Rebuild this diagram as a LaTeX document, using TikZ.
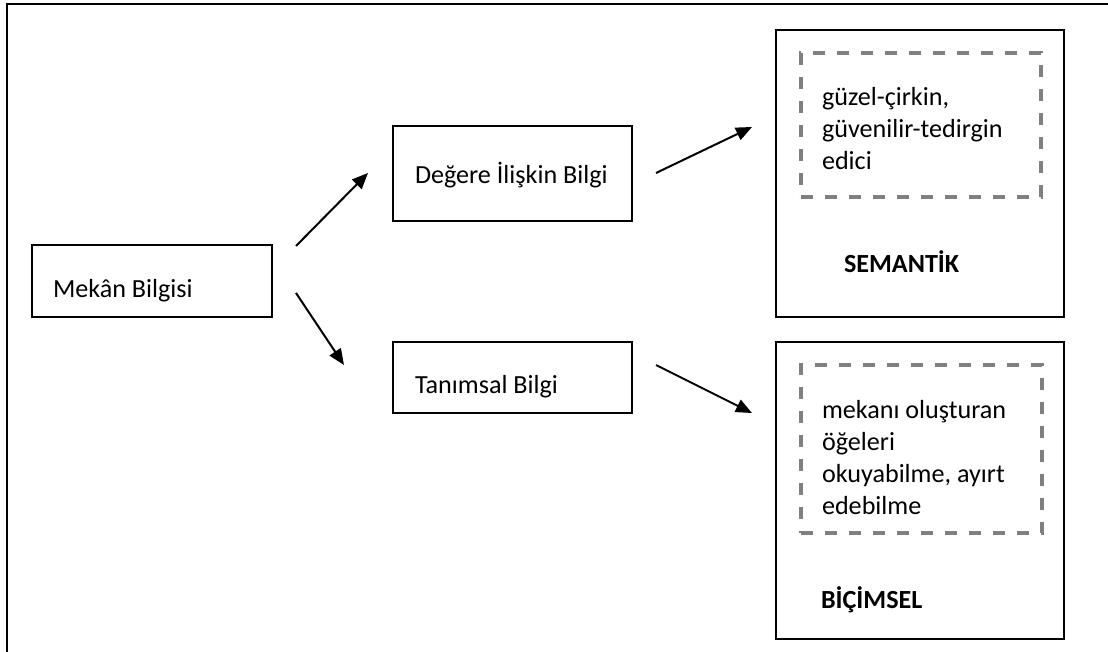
\documentclass[tikz,border=0pt]{standalone}
\usepackage{fontspec}
\setmainfont{Carlito}
\usetikzlibrary{arrows.meta,fit}
\definecolor{dashgray}{HTML}{808080}
\begin{document}
\begin{tikzpicture}[x=0.75pt,y=-0.75pt,
  every node/.style={inner sep=0pt, outer sep=0pt},
  box/.style={draw=black, line width=1.3pt, inner sep=0pt},
  dashbox/.style={draw=dashgray, line width=2.3pt, dash pattern=on 9pt off 9pt, inner sep=0pt},
  label/.style={anchor=base west, font=\fontsize{19.6}{24}\selectfont},
  blabel/.style={anchor=base west, font=\fontsize{19.6}{24}\selectfont\bfseries},
  multi/.style={anchor=base west, align=left, font=\fontsize{19.6}{24}\selectfont},
  link/.style={line width=1.5pt, -{Triangle[length=12pt,width=10pt]}}]
  % page area and open frame (top and left sides)
  \useasboundingbox (0,0) rectangle (1108,652);
  \draw[line width=1.8pt] (1108,4) -- (7,4) -- (7,652);

  % boxes
  \node[box, fit={(32,245) (272,317)}] (mekan) {};
  \node[box, fit={(393,126) (632,221)}] (deger) {};
  \node[box, fit={(393,342) (632,413)}] (tanim) {};
  \node[box, fit={(776,30) (1064,317)}] (semantik) {};
  \node[box, fit={(776,342) (1064,639)}] (bicimsel) {};
  \node[dashbox, fit={(801,53) (1041,197)}] (semin) {};
  \node[dashbox, fit={(801,365) (1042,533)}] (bicin) {};

  % texts (multi-line nodes are anchored at their last baseline)
  \node[label] (tmekan) at (53,298) {Mekân Bilgisi};
  \node[label] (tdeger) at (415,184) {Değere İlişkin Bilgi};
  \node[label] (ttanim) at (415,394) {Tanımsal Bilgi};
  \node[multi] (tsem) at (822,170) {güzel-çirkin,\\güvenilir-tedirgin\\edici};
  \node[multi] (tbic) at (822,514) {mekanı oluşturan\\öğeleri\\okuyabilme, ayırt\\edebilme};
  \node[blabel] (lsem) at (844,273) {SEMANTİK};
  \node[blabel] (lbic) at (821,609) {BİÇİMSEL};

  % connector end points
  \coordinate (a1s) at (296,246); \coordinate (a1e) at (368,173);
  \coordinate (a2s) at (296,293); \coordinate (a2e) at (344,365);
  \coordinate (a3s) at (656,173); \coordinate (a3e) at (752,127);
  \coordinate (a4s) at (656,365); \coordinate (a4e) at (752,413);

  \draw[link] (a1s) -- (a1e);
  \draw[link] (a2s) -- (a2e);
  \draw[link] (a3s) -- (a3e);
  \draw[link] (a4s) -- (a4e);
\end{tikzpicture}
\end{document}
